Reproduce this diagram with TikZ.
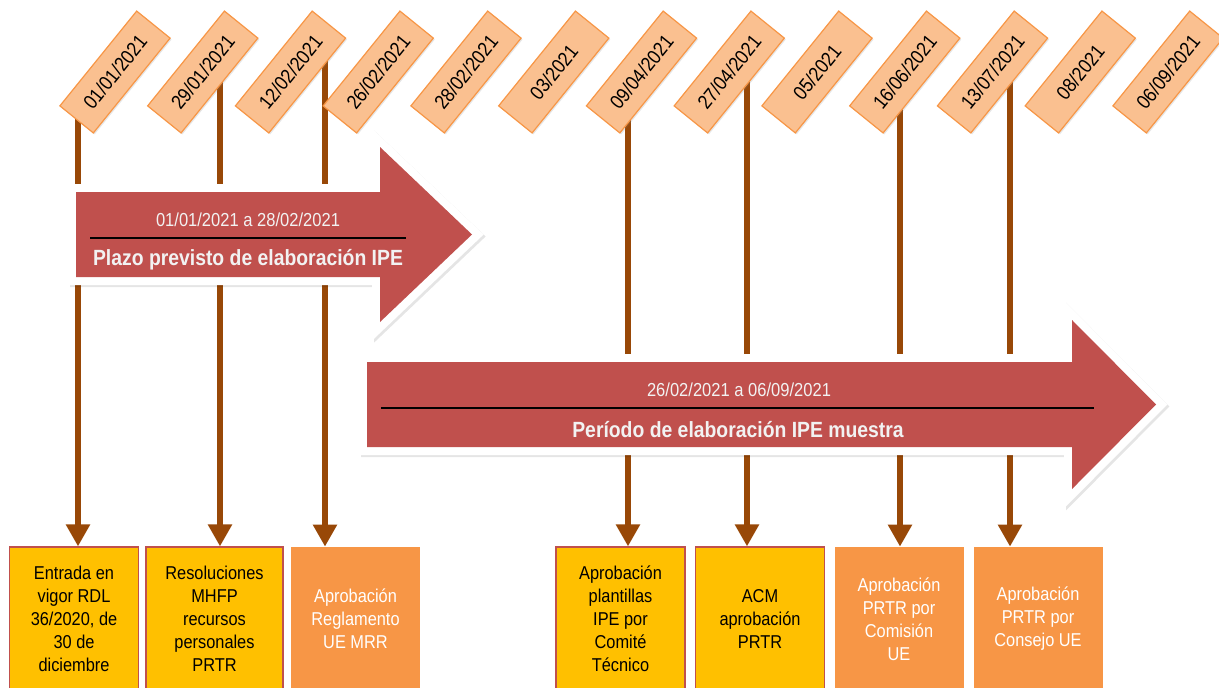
\documentclass[tikz,border=0pt]{standalone}
\usepackage{fontspec}
\setmainfont{Liberation Sans}[FakeStretch=0.88]
\usepackage{xcolor}
\usepackage{tikz}
\usetikzlibrary{arrows.meta,shadows}
\definecolor{TLOrange}{HTML}{F79646}
\definecolor{TLPeach}{HTML}{FAC090}
\definecolor{TLYellow}{HTML}{FFC000}
\definecolor{TLRed}{HTML}{C0504D}
\definecolor{TLBrown}{HTML}{984807}
\definecolor{TLText}{HTML}{F2F2F2}
\tikzset{
  tltag/.style={
    rectangle,
    rotate=51,
    draw=TLOrange,
    line width=0.6pt,
    fill=TLPeach,
    minimum width=61pt,
    minimum height=21.5pt,
    inner sep=0pt,
    font=\fontsize{10}{12}\selectfont,
    drop shadow={opacity=0.2,shadow xshift=0.7pt,shadow yshift=-0.7pt}
  },
  tlbox/.style={
    rectangle,
    minimum width=64.5pt,
    minimum height=72pt,
    align=center,
    inner sep=2pt,
    font=\fontsize{9.3}{11.5}\selectfont
  },
  tlyellow/.style={tlbox,fill=TLYellow,draw=TLRed,line width=0.6pt},
  tlorange/.style={tlbox,fill=TLOrange,text=white},
  tlline/.style={draw=TLBrown,line width=3pt,-{Triangle[length=11pt,width=11.5pt]}},
  tlbig/.style={
    fill=TLRed,
    line join=miter,
    preaction={draw=black,opacity=0.1,line width=8pt,
      transform canvas={shift={(1pt,-1pt)}}},
    preaction={draw=white,line width=8pt}
  },
  tldate/.style={font=\fontsize{9.4}{11}\selectfont,text=TLText},
  tltitle/.style={font=\bfseries\fontsize{11}{13}\selectfont,text=TLText},
  tlrule/.style={draw=black,line width=0.7pt},
}

\begin{document}
\begin{tikzpicture}[x=0.5pt,y=-0.5pt]
  \useasboundingbox (0,0) rectangle (1219,687);

  % event boxes
  \node[tlyellow] (b1) at (74,619)
    {Entrada en\\vigor RDL\\36/2020, de\\30 de\\diciembre};
  \node[tlyellow,minimum width=68.5pt] (b2) at (214.5,619)
    {Resoluciones\\MHFP\\recursos\\personales\\PRTR};
  \node[tlorange] (b3) at (355.5,619)
    {Aprobación\\Reglamento\\UE MRR};
  \node[tlyellow] (b4) at (620.5,619)
    {Aprobación\\plantillas\\IPE por\\Comité\\Técnico};
  \node[tlyellow] (b5) at (760,619)
    {ACM\\aprobación\\PRTR};
  \node[tlorange] (b6) at (899,619)
    {Aprobación\\PRTR por\\Comisión\\UE};
  \node[tlorange] (b7) at (1038,619)
    {Aprobación\\PRTR por\\Consejo UE};

  % stems, hidden under the date tags
  \coordinate (s1) at (78,105);
  \coordinate (s2) at (220,55);
  \coordinate (s3) at (325,45);
  \coordinate (s4) at (628,95);
  \coordinate (s5) at (747,50);
  \coordinate (s6) at (900,80);
  \coordinate (s7) at (1010,50);
  \foreach \k in {1,...,7}
    \draw[tlline] (s\k) -- (s\k |- b\k.north);

  % period arrows
  \path[tlbig] (76,192) -- (380,192) -- (380,147) -- (472,234.5)
    -- (380,322) -- (380,277) -- (76,277) -- cycle;
  \node[tldate] (p1date) at (248,220) {01/01/2021 a 28/02/2021};
  \draw[tlrule] (90,238) -- (406,238);
  \node[tltitle] (p1name) at (248,260) {Plazo previsto de elaboración IPE};

  \path[tlbig] (367,362) -- (1072,362) -- (1072,320) -- (1156,404.5)
    -- (1072,489) -- (1072,447) -- (367,447) -- cycle;
  \node[tldate] (p2date) at (739,390) {26/02/2021 a 06/09/2021};
  \draw[tlrule] (381,408) -- (1094,408);
  \node[tltitle] (p2name) at (738,430) {Período de elaboración IPE muestra};

  % date tags
  \foreach \d [count=\i] in {01/01/2021,29/01/2021,12/02/2021,26/02/2021,
      28/02/2021,03/2021,09/04/2021,27/04/2021,05/2021,16/06/2021,
      13/07/2021,08/2021,06/09/2021}
    \node[tltag] (tag\i) at ({115+87.75*(\i-1)},72) {\d};
\end{tikzpicture}
\end{document}
